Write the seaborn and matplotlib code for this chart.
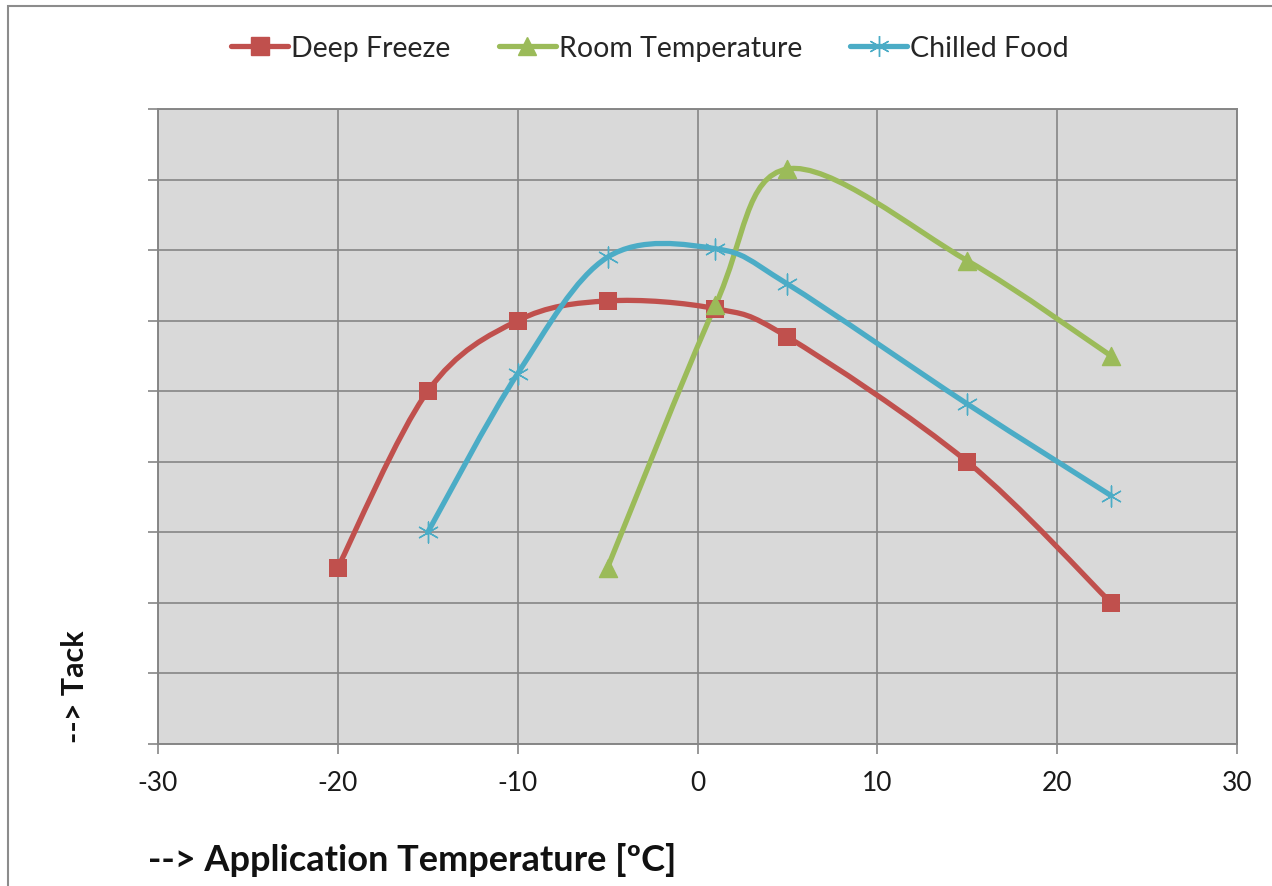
import numpy as np
import matplotlib
matplotlib.use('Agg')
import matplotlib.pyplot as plt
import seaborn as sns
from matplotlib.path import Path
from matplotlib.patches import PathPatch, Rectangle
from matplotlib.lines import Line2D

# ==========================================
# 1. DATA
# ==========================================
series_names = ['Deep Freeze', 'Room Temperature', 'Chilled Food']

x_deep = [-20, -15, -10, -5, 1, 5, 15, 23]
y_deep = [2.5, 5.0, 6.0, 6.28, 6.17, 5.77, 4.0, 2.0]

x_room = [-5, 1, 5, 15, 23]
y_room = [2.5, 6.22, 8.15, 6.85, 5.5]

x_chill = [-15, -10, -5, 1, 5, 15, 23]
y_chill = [3.0, 5.25, 6.9, 7.02, 6.52, 4.82, 3.52]

x_ticks = [-30, -20, -10, 0, 10, 20, 30]
y_ticks = list(range(0, 10))

colors = ['#C0504D', '#9BBB59', '#4BACC6']
markers = ['s', '^', (6, 2, 0)]
msizes = [13, 13, 15]

# ==========================================
# 2. HELPERS
# ==========================================
def smooth_path(xs, ys):
    # Excel-like smoothed line: cubic Bezier segments with Catmull-Rom control points
    pts = np.column_stack([xs, ys]).astype(float)
    n = len(pts)
    verts = [pts[0]]
    codes = [Path.MOVETO]
    for i in range(n - 1):
        p0 = pts[i - 1] if i > 0 else pts[i]
        p1 = pts[i]
        p2 = pts[i + 1]
        p3 = pts[i + 2] if i + 2 < n else pts[i + 1]
        c1 = p1 + (p2 - p0) / 6.0
        c2 = p2 - (p3 - p1) / 6.0
        verts += [c1, c2, p2]
        codes += [Path.CURVE4] * 3
    return Path(verts, codes)


# ==========================================
# 3. PLOT
# ==========================================
sns.set_theme(style='white')
plt.rcParams['font.family'] = ['Lato', 'DejaVu Sans']
plt.rcParams['axes.unicode_minus'] = False

fig = plt.figure(figsize=(12.72, 8.87), dpi=100)
ax = fig.add_axes([0.1242, 0.1601, 0.8483, 0.7159])
ax.set_facecolor('#D9D9D9')

grid_c = '#868686'
ax.set_xlim(-30, 30)
ax.set_ylim(0, 9)
ax.set_xticks(x_ticks)
ax.set_yticks(y_ticks)
ax.set_yticklabels([])
ax.grid(True, color=grid_c, linewidth=1.2)
ax.set_axisbelow(True)
for sp in ax.spines.values():
    sp.set_color(grid_c)
    sp.set_linewidth(1.4)
ax.tick_params(axis='both', direction='out', length=7, width=1.2, color=grid_c,
               left=True, bottom=True)
ax.tick_params(axis='x', labelsize=19, pad=12, labelcolor='#1a1a1a')

all_x = [x_deep, x_room, x_chill]
all_y = [y_deep, y_room, y_chill]
for xs, ys, c, m, ms in zip(all_x, all_y, colors, markers, msizes):
    ax.add_patch(PathPatch(smooth_path(xs, ys), facecolor='none', edgecolor=c,
                           linewidth=3.8, zorder=3, capstyle='round'))
    sns.scatterplot(x=xs, y=ys, ax=ax, marker=m, s=ms ** 2, color=c,
                    edgecolor=c, linewidth=1.0 if m != 's' else 0,
                    zorder=4, legend=False)

handles = [Line2D([0], [0], color=c, lw=3.8, marker=m, markersize=ms,
                  markeredgecolor=c, markeredgewidth=1.0)
           for c, m, ms in zip(colors, markers, msizes)]
fig.legend(handles, series_names, loc='center', bbox_to_anchor=(0.511, 0.945),
           ncol=3, frameon=False, fontsize=20.5, handlelength=2.0,
           handletextpad=0.1, columnspacing=1.7)

fig.text(0.1164, 0.031, '--> Application Temperature [ºC]', fontsize=26,
         fontweight='bold', ha='left', va='center', color='#111111')
fig.text(0.059, 0.2255, '--> Tack', fontsize=22, fontweight='bold',
         rotation=90, ha='center', va='center', color='#111111')

# outer chart border (extends past the crop on right and bottom)
fig.patches.append(Rectangle((0.0063, -0.1), 1.2, 1.092, transform=fig.transFigure,
                             fill=False, edgecolor='#8C8C8C', linewidth=1.5))

fig.savefig('out.png', dpi=100)
